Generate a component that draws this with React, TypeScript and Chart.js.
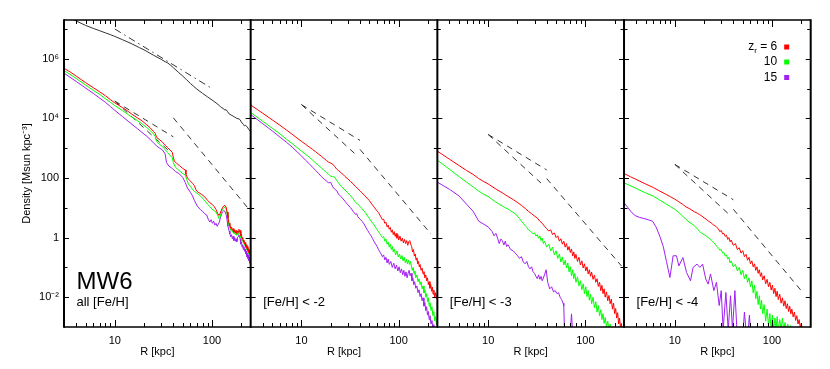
import React, { useEffect, useRef } from 'react';
import { Chart, registerables } from 'chart.js';

Chart.register(...registerables);

type Pair = [number, number | null];

// ---------- labels / ticks ----------
const panelIds = ['x0', 'x1', 'x2', 'x3'];
const panelLabels = ['all [Fe/H]', '[Fe/H] < -2', '[Fe/H] < -3', '[Fe/H] < -4'];
const simName = 'MW6';
const legendValues = ['6', '10', '15'];
const seriesColors = ['#ff0000', '#00ff00', '#a020f0'];
const xTickValues = [4, 5, 6, 7, 8, 9, 10, 20, 30, 40, 50, 60, 70, 80, 90, 100, 200];
const xMajorTicks = [10, 100];
const yTickValues = [1e-2, 1e-1, 1, 10, 100, 1e3, 1e4, 1e5, 1e6, 1e7];
const yMajorTicks = [1e-2, 1, 100, 1e4, 1e6];
const yTickLabels = ['10⁻²', '', '1', '', '100', '', '10⁴', '', '10⁶', ''];
const yTitle = 'Density [Msun kpc⁻³]';
const xTitle = 'R [kpc]';

// ---------- data: [R (kpc), log10 density (Msun kpc^-3)] ----------
const p1Total: Pair[] = [[3,7.45],[3.5,7.36],[4,7.27],[5,7.12],[6,7.02],[7,6.94],[8,6.87],[9,6.81],[10,6.75],[12,6.64],[15,6.50],[18,6.37],[20,6.30],[25,6.12],[30,5.98],[33,5.90],[35,5.86],[37,5.80],[40,5.70],[45,5.55],[50,5.42],[55,5.29],[60,5.17],[65,5.07],[70,4.98],[80,4.84],[90,4.72],[100,4.62],[110,4.52],[120,4.42],[125,4.36],[130,4.34],[135,4.28],[140,4.29],[145,4.22],[150,4.15],[160,4.10],[170,4.05],[180,4.00],[190,3.98],[195,3.95],[200,3.88],[210,3.80],[215,3.75],[220,3.77],[230,3.72],[240,3.62],[250,3.55]];
const p1TotalGuide: Pair[] = [[10,7.0],[100,5.0]];

const p1Red: Pair[] = [[3,5.68],[3.5,5.55],[4,5.42],[5,5.20],[6,5.03],[7,4.89],[8,4.76],[9,4.63],[10,4.52],[11,4.44],[12,4.36],[13,4.29],[14,4.21],[15,4.14],[17,4.02],[19,3.92],[21,3.80],[23,3.69],[25,3.56],[26,3.50],[27,3.36],[29,3.28],[31,3.20],[33,3.10],[35,3.02],[37,2.94],[39,2.86],[40,2.70],[41,2.56],[43,2.50],[46,2.42],[50,2.32],[53,2.27],[54,2.12],[56,2.00],[59,1.92],[63,1.82],[66,1.74],[68,1.62],[70,1.55],[74,1.50],[78,1.45],[82,1.40],[86,1.33],[90,1.25],[95,1.17],[100,1.12],[105,1.05],[110,0.94],[114,0.82],[118,0.74],[121,0.80],[124,0.90],[128,1.00],[132,1.06],[136,1.08],[140,1.02],[143,0.86],[146,0.66],[150,0.48],[153,0.40],[156,0.30],[159,0.36],[162,0.24],[165,0.30],[168,0.18],[171,0.26],[174,0.16],[177,0.24],[180,0.14],[183,0.22],[186,0.18],[189,0.28],[192,0.20],[195,0.24],[198,0.06],[201,0.10],[204,-0.04],[207,0.00],[210,-0.14],[213,-0.08],[216,-0.22],[219,-0.16],[222,-0.30],[225,-0.24],[228,-0.36],[231,-0.30],[234,-0.44],[237,-0.38],[240,-0.50],[243,-0.44],[246,-0.56],[250,-0.52]];
const p1Green: Pair[] = [[3,5.61],[4,5.34],[5,5.12],[6,4.94],[7,4.80],[8,4.66],[9,4.54],[10,4.43],[12,4.26],[15,4.04],[17,3.93],[19,3.82],[21,3.71],[23,3.60],[25,3.48],[26,3.40],[27,3.22],[29,3.12],[31,3.05],[33,2.95],[35,2.85],[37,2.76],[39,2.68],[40,2.52],[42,2.36],[44,2.30],[47,2.22],[50,2.15],[53,2.10],[55,1.95],[57,1.80],[60,1.72],[63,1.62],[66,1.55],[69,1.50],[72,1.46],[76,1.40],[80,1.32],[85,1.22],[90,1.12],[95,1.04],[100,0.96],[105,0.90],[110,0.86],[114,0.76],[118,0.64],[121,0.68],[124,0.82],[128,0.95],[132,1.00],[136,1.02],[140,0.96],[143,0.80],[146,0.58],[150,0.40],[153,0.34],[156,0.24],[159,0.30],[162,0.18],[165,0.24],[168,0.14],[171,0.20],[174,0.10],[177,0.18],[180,0.08],[183,0.16],[186,0.12],[189,0.22],[192,0.14],[195,0.18],[198,0.00],[201,0.04],[204,-0.10],[207,-0.04],[210,-0.18],[213,-0.12],[216,-0.26],[219,-0.20],[222,-0.34],[225,-0.28],[228,-0.40],[231,-0.34],[234,-0.48],[237,-0.42],[240,-0.54],[243,-0.48],[246,-0.62],[250,-0.56]];
const p1Purple: Pair[] = [[3,5.52],[4,5.24],[5,5.02],[6,4.84],[7,4.68],[8,4.54],[9,4.40],[10,4.27],[12,4.06],[15,3.80],[17,3.66],[19,3.53],[21,3.42],[23,3.30],[25,3.18],[27,3.07],[29,3.00],[31,2.94],[33,2.80],[34,2.52],[36,2.40],[39,2.32],[42,2.22],[46,2.14],[50,2.02],[53,1.85],[56,1.66],[60,1.52],[63,1.40],[66,1.24],[70,1.08],[73,1.00],[76,0.94],[80,0.88],[84,0.80],[88,0.76],[92,0.60],[95,0.52],[98,0.60],[101,0.48],[104,0.55],[107,0.42],[110,0.48],[113,0.38],[116,0.45],[119,0.52],[122,0.66],[125,0.78],[128,0.86],[132,0.90],[136,0.88],[140,0.76],[143,0.58],[146,0.38],[150,0.22],[153,0.12],[156,0.02],[159,0.10],[162,-0.04],[165,0.04],[168,-0.10],[171,0.00],[174,-0.12],[177,-0.04],[180,-0.14],[183,0.00],[186,0.04],[189,0.10],[192,0.00],[195,-0.04],[198,-0.22],[201,-0.16],[204,-0.32],[207,-0.24],[210,-0.40],[213,-0.30],[216,-0.46],[219,-0.38],[222,-0.55],[225,-0.46],[228,-0.64],[231,-0.54],[234,-0.70],[237,-0.60],[240,-0.78],[243,-0.66],[246,-0.86],[250,-0.76]];

const p2Red: Pair[] = [[3,4.45],[4,4.17],[5,3.95],[6,3.77],[7,3.61],[8,3.47],[9,3.34],[10,3.23],[11,3.13],[12,3.04],[13,2.96],[14,2.88],[15,2.80],[16,2.73],[17,2.66],[18,2.59],[19,2.53],[20,2.50],[21,2.46],[22,2.38],[23,2.30],[24,2.25],[25,2.20],[26,2.15],[27,2.11],[28,2.05],[30,1.97],[32,1.88],[34,1.80],[36,1.71],[38,1.64],[40,1.57],[42,1.50],[45,1.40],[48,1.30],[50,1.24],[53,1.12],[56,1.02],[59,0.92],[62,0.84],[65,0.72],[68,0.60],[70,0.62],[72,0.48],[74,0.52],[76,0.36],[78,0.42],[80,0.28],[82,0.34],[84,0.18],[86,0.26],[88,0.10],[90,0.20],[92,0.04],[94,0.14],[96,-0.02],[98,0.10],[100,-0.08],[103,0.05],[106,-0.12],[109,-0.02],[112,-0.18],[115,-0.06],[118,-0.20],[121,-0.10],[124,-0.26],[127,-0.14],[130,-0.10],[133,-0.22],[136,-0.30],[139,-0.48],[142,-0.40],[145,-0.62],[148,-0.55],[151,-0.75],[154,-0.68],[157,-0.88],[160,-0.80],[163,-0.98],[166,-0.90],[170,-1.10],[174,-1.02],[178,-1.22],[182,-1.14],[186,-1.35],[190,-1.25],[194,-1.45],[198,-1.35],[202,-1.58],[206,-1.48],[210,-1.70],[214,-1.58],[218,-1.80],[222,-1.66],[226,-1.90],[230,-1.76],[235,-2.00],[240,-1.85],[245,-2.05],[250,-1.92]];
const p2Green: Pair[] = [[3,4.20],[4,3.90],[5,3.67],[6,3.48],[7,3.30],[8,3.16],[9,3.02],[10,2.90],[11,2.80],[12,2.70],[13,2.60],[14,2.50],[15,2.42],[16,2.34],[17,2.26],[18,2.19],[19,2.12],[20,2.06],[21,2.04],[22,2.03],[23,1.92],[24,1.84],[25,1.76],[26,1.70],[28,1.60],[30,1.50],[32,1.40],[34,1.30],[36,1.18],[38,1.12],[40,1.05],[42,0.97],[45,0.85],[48,0.72],[50,0.64],[53,0.52],[56,0.42],[59,0.30],[62,0.20],[65,0.10],[68,0.00],[70,0.04],[72,-0.12],[74,-0.05],[76,-0.22],[78,-0.15],[80,-0.32],[82,-0.22],[84,-0.40],[86,-0.30],[88,-0.48],[90,-0.38],[93,-0.58],[96,-0.45],[99,-0.65],[102,-0.55],[105,-0.72],[108,-0.60],[111,-0.78],[114,-0.66],[117,-0.84],[120,-0.72],[123,-0.88],[126,-0.75],[129,-0.90],[132,-0.80],[135,-0.95],[138,-1.10],[141,-1.00],[144,-1.22],[147,-1.12],[150,-1.35],[154,-1.25],[158,-1.48],[162,-1.38],[166,-1.58],[170,-1.48],[174,-1.72],[178,-1.62],[182,-1.86],[186,-1.75],[190,-2.00],[194,-1.88],[198,-2.15],[202,-2.02],[206,-2.30],[210,-2.18],[215,-2.45],[220,-2.32],[225,-2.62],[230,-2.48],[235,-2.80],[240,-2.65],[245,-2.92],[250,-2.78]];
const p2Purple: Pair[] = [[3,4.13],[4,3.82],[5,3.58],[6,3.37],[7,3.20],[8,3.04],[9,2.88],[10,2.74],[11,2.60],[12,2.48],[13,2.36],[14,2.25],[15,2.15],[16,2.05],[17,1.97],[18,1.90],[19,1.84],[20,1.85],[21,1.70],[22,1.62],[23,1.58],[24,1.46],[25,1.40],[26,1.35],[28,1.22],[30,1.10],[32,1.00],[34,0.88],[36,0.78],[37,0.80],[38,0.70],[40,0.62],[42,0.55],[44,0.46],[46,0.34],[48,0.24],[50,0.14],[52,0.06],[54,-0.04],[56,-0.14],[58,-0.22],[60,-0.30],[62,-0.40],[64,-0.48],[66,-0.55],[68,-0.64],[70,-0.58],[72,-0.75],[74,-0.66],[76,-0.85],[78,-0.72],[80,-0.90],[83,-0.80],[86,-1.00],[89,-0.86],[92,-1.05],[95,-0.92],[98,-1.12],[101,-0.98],[104,-1.18],[107,-1.05],[110,-1.25],[113,-1.10],[116,-1.30],[119,-1.15],[122,-1.35],[125,-1.20],[128,-1.10],[131,-1.28],[134,-1.20],[137,-1.45],[140,-1.35],[143,-1.58],[146,-1.48],[150,-1.70],[154,-1.62],[158,-1.85],[162,-1.75],[166,-1.98],[170,-1.88],[174,-2.12],[178,-2.02],[182,-2.30],[186,-2.18],[190,-2.45],[194,-2.32],[198,-2.60],[202,-2.48],[206,-2.75],[210,-2.62],[215,-2.90],[220,-2.78],[225,-3.05],[230,-2.92],[235,-3.15],[240,-3.05]];

const p3Red: Pair[] = [[3,2.90],[4,2.63],[5,2.42],[6,2.25],[7,2.12],[8,1.98],[9,1.88],[10,1.80],[12,1.63],[14,1.50],[16,1.38],[18,1.28],[20,1.18],[22,1.08],[24,0.98],[26,0.88],[28,0.80],[30,0.72],[32,0.66],[34,0.55],[36,0.48],[38,0.38],[40,0.30],[42,0.22],[44,0.26],[46,0.10],[48,0.16],[50,0.00],[52,0.06],[54,-0.12],[56,-0.04],[58,-0.22],[60,-0.12],[62,-0.32],[64,-0.20],[66,-0.42],[68,-0.30],[70,-0.50],[72,-0.38],[74,-0.62],[76,-0.48],[78,-0.70],[80,-0.56],[83,-0.80],[86,-0.66],[89,-0.92],[92,-0.78],[95,-1.02],[98,-0.88],[101,-1.12],[104,-0.98],[107,-1.22],[110,-1.08],[113,-1.30],[116,-1.16],[120,-1.40],[124,-1.26],[128,-1.50],[132,-1.38],[136,-1.64],[140,-1.50],[144,-1.78],[148,-1.60],[152,-1.88],[156,-1.72],[160,-2.00],[165,-1.82],[170,-2.12],[175,-1.94],[180,-2.22],[185,-2.06],[190,-2.40],[195,-2.20],[200,-2.55],[205,-2.38],[210,-2.70],[215,-2.52],[220,-2.90],[225,-2.70],[230,-3.05],[235,-2.88],[240,-3.20]];
const p3Green: Pair[] = [[3,2.60],[4,2.29],[5,2.05],[6,1.86],[7,1.70],[8,1.56],[9,1.45],[10,1.38],[11,1.28],[12,1.19],[13,1.12],[14,1.06],[15,1.00],[16,0.96],[17,0.90],[18,0.85],[19,0.80],[20,0.72],[21,0.64],[22,0.55],[23,0.48],[24,0.40],[25,0.34],[26,0.26],[27,0.22],[28,0.18],[29,0.12],[30,0.16],[31,0.05],[32,0.10],[33,-0.02],[34,0.06],[35,-0.10],[36,-0.02],[37,-0.20],[38,-0.12],[40,-0.32],[42,-0.22],[44,-0.45],[46,-0.32],[48,-0.58],[50,-0.44],[52,-0.70],[54,-0.55],[56,-0.82],[58,-0.65],[60,-0.92],[62,-0.76],[64,-1.02],[66,-0.85],[68,-1.15],[70,-0.98],[72,-1.28],[74,-1.08],[76,-1.38],[78,-1.20],[80,-1.50],[83,-1.32],[86,-1.62],[89,-1.45],[92,-1.75],[95,-1.55],[98,-1.88],[101,-1.65],[104,-1.98],[107,-1.78],[110,-2.10],[113,-1.90],[116,-2.22],[120,-2.00],[124,-2.35],[128,-2.15],[132,-2.50],[136,-2.28],[140,-2.62],[144,-2.42],[148,-2.75],[152,-2.55],[156,-2.88],[160,-2.68],[165,-3.00],[170,-2.80],[175,-3.10],[180,-2.90],[185,-3.15],[190,-3.00],[195,-3.20]];
const p3Purple: Pair[] = [[3,1.86],[4,1.62],[5,1.40],[6,1.12],[7,0.88],[8,0.55],[9,0.45],[10,0.36],[11,0.20],[11.5,0.06],[12,0.14],[12.5,-0.02],[13,-0.20],[13.5,-0.05],[14,-0.10],[14.5,-0.25],[15,-0.12],[15.5,-0.30],[16,-0.24],[17,-0.40],[18,-0.44],[19,-0.52],[20,-0.60],[21,-0.70],[22,-0.64],[23,-0.82],[24,-0.88],[25,-0.80],[26,-0.98],[27,-1.05],[28,-0.98],[29,-1.15],[30,-1.20],[31,-1.30],[32,-1.38],[33,-1.25],[34,-1.40],[35,-1.30],[36,-1.45],[38,-1.25],[39.5,-1.08],[41,-1.50],[43,-1.72],[45,-1.65],[47,-1.82],[49,-1.78],[51,-1.88],[53,-1.85],[55,-2.00],[57,-2.08],[59,-2.20],[60,-2.30],[61,-3.20],[66,null],[70,-3.20],[72,-2.56],[74,-3.20]];

const p4Red: Pair[] = [[3,2.15],[3.5,2.04],[4,1.95],[5,1.80],[6,1.68],[7,1.56],[8,1.46],[9,1.37],[10,1.29],[11,1.20],[12,1.12],[13,1.03],[14,0.98],[15,0.92],[16,0.86],[17,0.82],[18,0.77],[19,0.72],[20,0.66],[21,0.62],[22,0.56],[23,0.52],[24,0.48],[25,0.42],[26,0.40],[27,0.34],[28,0.30],[29,0.20],[30,0.24],[31,0.12],[32,0.14],[33,0.04],[34,0.08],[35,-0.06],[36,0.00],[37,-0.14],[38,-0.08],[40,-0.26],[42,-0.20],[44,-0.40],[46,-0.34],[48,-0.52],[50,-0.44],[52,-0.64],[54,-0.56],[56,-0.76],[58,-0.66],[60,-0.88],[62,-0.78],[64,-0.98],[66,-0.88],[68,-1.10],[70,-0.98],[72,-1.20],[74,-1.08],[76,-1.30],[78,-1.18],[80,-1.42],[83,-1.28],[86,-1.55],[89,-1.40],[92,-1.65],[95,-1.50],[98,-1.76],[101,-1.60],[104,-1.88],[107,-1.70],[110,-1.98],[113,-1.80],[116,-2.08],[120,-1.90],[124,-2.20],[128,-2.02],[132,-2.30],[136,-2.12],[140,-2.38],[144,-2.22],[148,-2.48],[152,-2.30],[156,-2.56],[160,-2.40],[165,-2.66],[170,-2.50],[175,-2.78],[180,-2.62],[185,-2.90],[190,-2.75],[195,-3.00],[200,-2.88],[205,-3.10]];
const p4Green: Pair[] = [[3,1.84],[4,1.65],[5,1.50],[6,1.39],[7,1.26],[8,1.14],[9,1.04],[10,0.95],[11,0.84],[12,0.72],[13,0.62],[14,0.52],[15,0.46],[16,0.38],[17,0.30],[18,0.20],[19,0.14],[20,0.10],[21,0.06],[22,0.00],[23,-0.04],[24,-0.10],[25,-0.16],[26,-0.22],[27,-0.30],[28,-0.34],[29,-0.42],[30,-0.40],[31,-0.52],[32,-0.50],[33,-0.62],[34,-0.58],[35,-0.72],[36,-0.66],[37,-0.85],[38,-0.78],[40,-0.98],[42,-0.90],[44,-1.12],[46,-1.00],[48,-1.25],[50,-1.10],[52,-1.38],[54,-1.22],[56,-1.50],[58,-1.35],[60,-1.65],[62,-1.45],[64,-1.85],[66,-1.60],[68,-2.05],[70,-1.80],[72,-2.25],[74,-1.95],[76,-2.40],[78,-2.10],[80,-2.55],[83,-2.25],[86,-2.80],[89,-2.40],[92,-2.95],[95,-2.55],[98,-3.10],[101,-2.60],[104,-3.10],[107,-2.70],[110,-3.10],[113,-2.65],[116,-3.10],[120,-2.75],[124,-3.10],[128,-2.70],[132,-3.10],[136,-2.85],[140,-3.10],[145,-2.90],[150,-3.10],[155,-2.95],[160,-3.10]];
const p4Purple: Pair[] = [[3,1.17],[3.3,1.00],[3.6,0.84],[3.9,0.74],[4.3,0.68],[4.8,0.64],[5.3,0.60],[5.9,0.55],[6.4,0.36],[7.0,0.05],[7.6,-0.30],[8.2,-0.80],[8.9,-1.34],[9.6,-0.61],[10.4,-0.61],[11.0,-0.95],[12.1,-0.67],[13.2,-1.17],[14.5,-1.45],[15.4,-1.00],[16.9,-0.89],[18.1,-1.00],[19.3,-0.89],[20.8,-1.39],[22.0,-1.56],[23.3,-1.22],[25.2,-1.78],[26.8,-1.50],[28.6,-2.28],[30.0,-1.78],[31.4,-3.10],[33.5,-1.84],[35.4,-3.10],[37.4,-1.95],[39.2,-3.10],[41.5,-1.78],[43.5,-3.10],[47,null],[50.5,-3.10],[52,-2.50],[54,-3.10],[56,null],[57,-3.10],[58.5,-2.60],[60,-3.10]];

// power-law guide segments per panel (dashed)
const p1Guides: Pair[][] = [[[10,4.58],[40,3.38]], [[10,4.58],[36,2.91]], [[40,4.02],[240,0.95]]];
const p2Guides: Pair[][] = [[[10,4.46],[40,3.26]], [[10,4.46],[35,2.83]], [[40,2.96],[215,0.12]]];
const p3Guides: Pair[][] = [[[10,3.46],[40,2.27]], [[10,3.46],[35,1.83]], [[40,1.98],[235,-0.95]]];
const p4Guides: Pair[][] = [[[10,2.455],[40,1.27]], [[10,2.455],[35,0.82]], [[40,0.95],[202,-1.80]]];

const redSeries = [p1Red, p2Red, p3Red, p4Red];
const greenSeries = [p1Green, p2Green, p3Green, p4Green];
const purpleSeries = [p1Purple, p2Purple, p3Purple, p4Purple];
const guideSeries = [p1Guides, p2Guides, p3Guides, p4Guides];

const FONT = '"Liberation Sans", Arial, Helvetica, sans-serif';

function toPoints(pairs: Pair[]) {
  return pairs.map(([r, v]) => ({ x: r, y: v === null ? null : Math.pow(10, v) }));
}

const framePlugin = {
  id: 'frameTicks',
  afterDatasetsDraw(chart: any) {
    const ctx = chart.ctx;
    const area = chart.chartArea;
    const ys = chart.scales.y;
    ctx.save();
    ctx.strokeStyle = '#000';
    const seg = (x1: number, y1: number, x2: number, y2: number) => {
      ctx.beginPath();
      ctx.moveTo(x1, y1);
      ctx.lineTo(x2, y2);
      ctx.stroke();
    };
    ctx.lineWidth = 1;
    panelIds.forEach((id) => {
      const xs = chart.scales[id];
      const l = xs.left, r = xs.right, t = area.top, b = area.bottom;
      xs.ticks.forEach((tk: any) => {
        const px = Math.round(xs.getPixelForValue(tk.value)) + 0.5;
        const len = tk.major ? 7 : 4;
        seg(px, b, px, b - len);
        seg(px, t, px, t + len);
      });
      ys.ticks.forEach((tk: any) => {
        const py = Math.round(ys.getPixelForValue(tk.value)) + 0.5;
        const len = tk.major ? 5 : 3.5;
        seg(l, py, l + len, py);
        seg(r, py, r - len, py);
      });
    });
    ctx.lineWidth = 1.5;
    seg(area.left, area.top, area.right, area.top);
    seg(area.left, area.bottom, area.right, area.bottom);
    ctx.lineWidth = 2;
    panelIds.forEach((id) => {
      const xs = chart.scales[id];
      seg(xs.left, area.top - 0.75, xs.left, area.bottom + 0.75);
    });
    seg(area.right, area.top - 0.75, area.right, area.bottom + 0.75);
    ctx.restore();
  },
  afterDraw(chart: any) {
    const ctx = chart.ctx;
    const area = chart.chartArea;
    ctx.save();
    ctx.fillStyle = '#000';
    ctx.textAlign = 'left';
    ctx.textBaseline = 'alphabetic';
    const first = chart.scales[panelIds[0]];
    ctx.font = `24px ${FONT}`;
    ctx.fillText(simName, first.left + 12.5, area.bottom - 38);
    ctx.font = `13px ${FONT}`;
    panelIds.forEach((id, p) => {
      const xs = chart.scales[id];
      ctx.fillText(panelLabels[p], xs.left + 12.5, area.bottom - 21);
    });
    // legend in last panel
    const last = chart.scales[panelIds[3]];
    const rightX = last.right - 33.5;
    const sqX = last.right - 24;
    const rowY = [area.top + 27, area.top + 42, area.top + 57.5];
    ctx.textBaseline = 'middle';
    legendValues.forEach((val, i) => {
      const y = rowY[i];
      ctx.font = `12px ${FONT}`;
      if (i === 0) {
        const main = ` = ${val}`;
        const wMain = ctx.measureText(main).width;
        const wz = ctx.measureText('z').width;
        ctx.font = `8px ${FONT}`;
        const wr = ctx.measureText('r').width;
        const start = rightX - wMain - wr - wz;
        ctx.font = `12px ${FONT}`;
        ctx.fillText('z', start, y);
        ctx.fillText(main, start + wz + wr, y);
        ctx.font = `8px ${FONT}`;
        ctx.fillText('r', start + wz, y + 4);
      } else {
        ctx.textAlign = 'right';
        ctx.fillText(val, rightX, y);
        ctx.textAlign = 'left';
      }
      ctx.fillStyle = seriesColors[i];
      ctx.fillRect(sqX - 2.5, y - 2.5, 5, 5);
      ctx.fillStyle = '#000';
    });
    ctx.restore();
  },
};

function xScale() {
  return {
    type: 'logarithmic',
    position: 'bottom',
    stack: 'panels',
    stackWeight: 1,
    min: 3,
    max: 250,
    grid: { display: false, drawTicks: false },
    border: { display: false },
    afterBuildTicks: (s: any) => {
      s.ticks = xTickValues.map((v) => ({ value: v, major: xMajorTicks.includes(v) }));
    },
    afterFit: (s: any) => {
      s.height = 42;
    },
    ticks: {
      autoSkip: false,
      maxRotation: 0,
      padding: 7,
      color: '#000',
      font: { family: FONT, size: 11 },
      callback: (v: any) => (xMajorTicks.includes(Number(v)) ? String(v) : ''),
    },
    title: {
      display: true,
      text: xTitle,
      color: '#000',
      font: { family: FONT, size: 11 },
      padding: { top: 0, bottom: 10 },
    },
  };
}

export default function App() {
  const ref = useRef<HTMLCanvasElement>(null);
  useEffect(() => {
    const canvas = ref.current;
    if (!canvas) return;
    const datasets: any[] = [];
    const names = ['zr=6', 'zr=10', 'zr=15'];
    for (let p = 0; p < 4; p++) {
      const xAxisID = panelIds[p];
      [redSeries[p], greenSeries[p], purpleSeries[p]].forEach((s, i) => {
        datasets.push({
          label: `${panelLabels[p]} ${names[i]}`,
          data: toPoints(s),
          xAxisID,
          yAxisID: 'y',
          borderColor: seriesColors[i],
          borderWidth: 1,
          pointRadius: 0,
          tension: 0,
          fill: false,
        });
      });
    }
    datasets.push({
      label: 'all stars',
      data: toPoints(p1Total),
      xAxisID: 'x0',
      yAxisID: 'y',
      borderColor: '#333',
      borderWidth: 1,
      pointRadius: 0,
      fill: false,
    });
    datasets.push({
      label: 'R^-2',
      data: toPoints(p1TotalGuide),
      xAxisID: 'x0',
      yAxisID: 'y',
      borderColor: '#333',
      borderWidth: 1,
      borderDash: [7, 4, 1.5, 4],
      pointRadius: 0,
      fill: false,
    });
    for (let p = 0; p < 4; p++) {
      guideSeries[p].forEach((g, j) => {
        datasets.push({
          label: `guide ${p}-${j}`,
          data: toPoints(g),
          xAxisID: panelIds[p],
          yAxisID: 'y',
          borderColor: '#333',
          borderWidth: 1,
          borderDash: [6, 5],
          pointRadius: 0,
          fill: false,
        });
      });
    }

    const scales: any = {
      y: {
        type: 'logarithmic',
        position: 'left',
        min: 1e-3,
        max: 2e7,
        grid: { display: false, drawTicks: false },
        border: { display: false },
        afterBuildTicks: (s: any) => {
          s.ticks = yTickValues.map((v) => ({ value: v, major: yMajorTicks.includes(v) }));
        },
        afterFit: (s: any) => {
          s.width = 64;
        },
        ticks: {
          autoSkip: false,
          padding: 5,
          color: '#000',
          font: { family: FONT, size: 11 },
          callback: (_v: any, i: number) => yTickLabels[i],
        },
        title: {
          display: true,
          text: yTitle,
          color: '#000',
          font: { family: FONT, size: 11 },
          padding: { top: 20, bottom: 0 },
        },
      },
    };
    panelIds.forEach((id) => {
      scales[id] = xScale();
    });

    const chart = new Chart(canvas, {
      type: 'line',
      data: { datasets },
      options: {
        animation: false,
        responsive: true,
        maintainAspectRatio: false,
        parsing: true,
        layout: { padding: { top: 20, right: 19.3, left: 0, bottom: 0 } },
        plugins: { legend: { display: false }, tooltip: { enabled: false } },
        scales,
      } as any,
      plugins: [framePlugin as any],
    });
    return () => chart.destroy();
  }, []);

  return (
    <div style={{ position: 'fixed', left: 0, top: 0, width: 830, height: 369, background: '#fff' }}>
      <canvas ref={ref} />
    </div>
  );
}
